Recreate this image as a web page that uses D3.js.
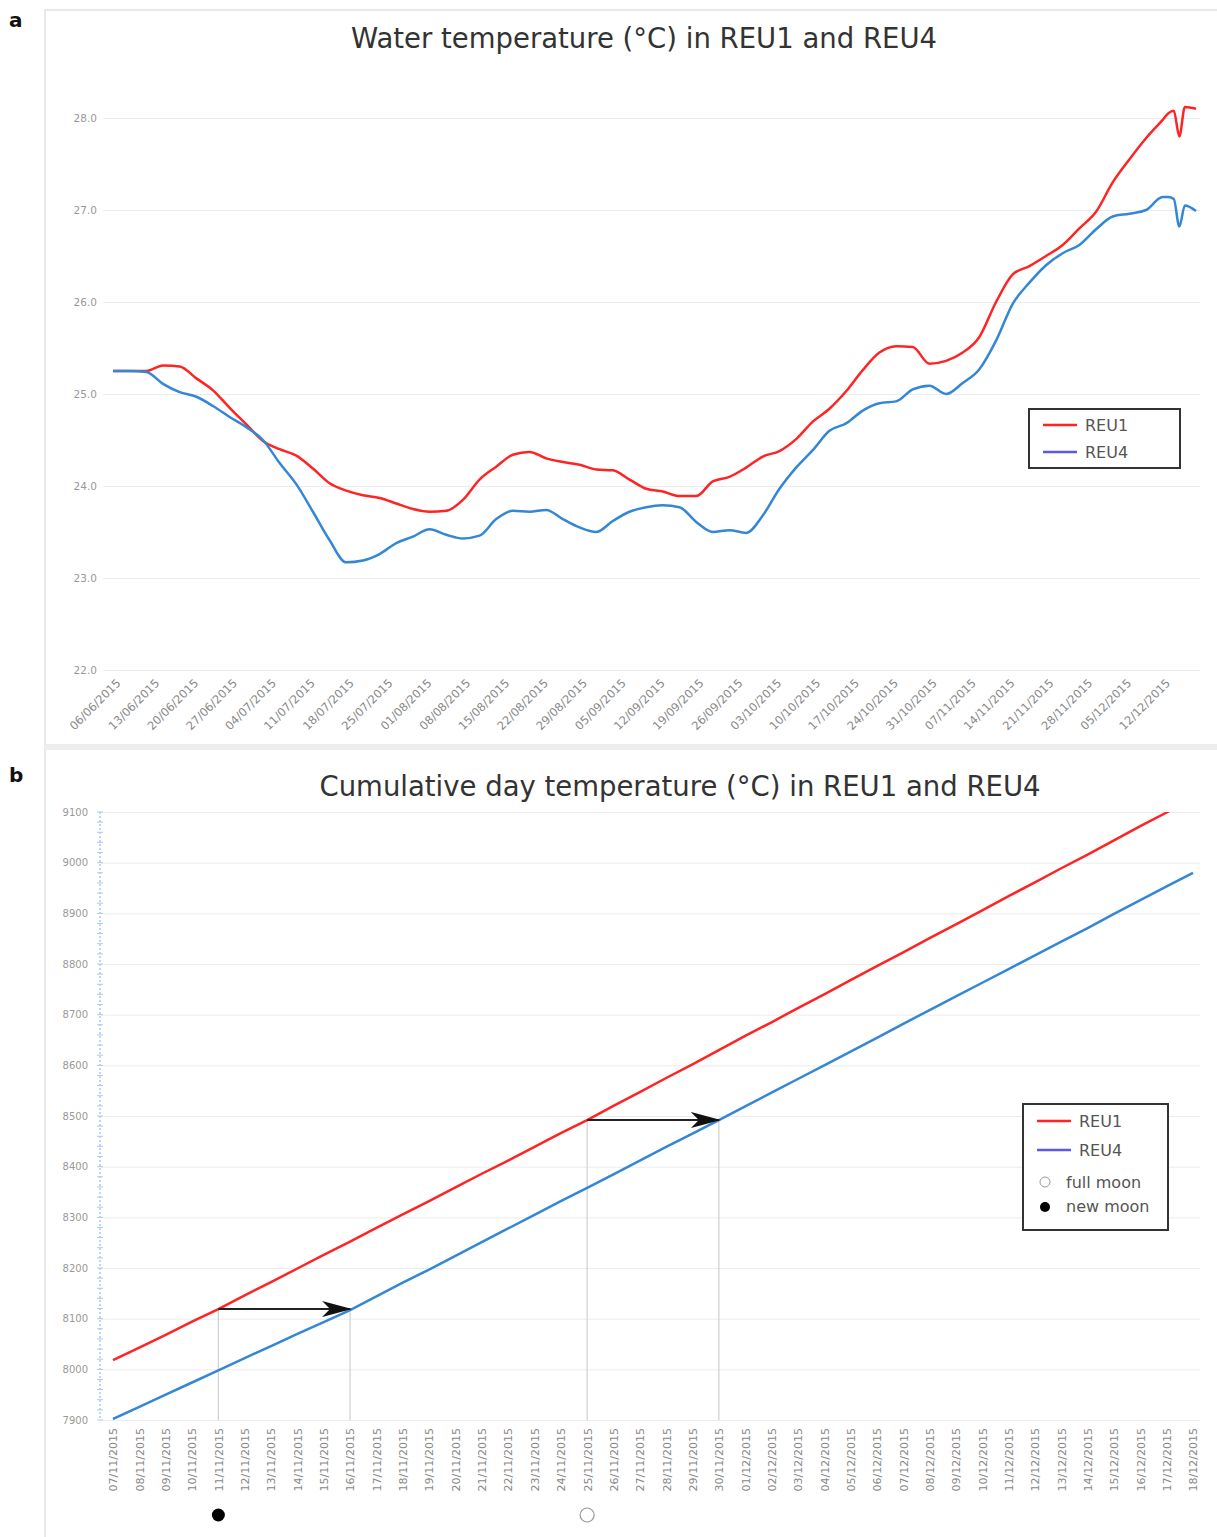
<!DOCTYPE html>
<html>
<head>
<meta charset="utf-8">
<script src="https://cdn.jsdelivr.net/npm/d3@7"></script>
<style>
  body { margin: 0; background: white; }
  text { font-family: "DejaVu Sans", sans-serif; }
</style>
</head>
<body>
<div id="container"></div>
<script>
// ---- data ----

// panel a: water temperature, sampled every ~3 days
const waterDates = [
  "06/06/2015","09/06/2015","12/06/2015","15/06/2015","18/06/2015","21/06/2015","24/06/2015","27/06/2015",
  "30/06/2015","03/07/2015","06/07/2015","09/07/2015","12/07/2015","15/07/2015","18/07/2015","21/07/2015",
  "24/07/2015","27/07/2015","30/07/2015","02/08/2015","05/08/2015","08/08/2015","11/08/2015","14/08/2015",
  "17/08/2015","20/08/2015","23/08/2015","26/08/2015","29/08/2015","01/09/2015","04/09/2015","07/09/2015",
  "10/09/2015","13/09/2015","16/09/2015","19/09/2015","22/09/2015","25/09/2015","28/09/2015","01/10/2015",
  "04/10/2015","07/10/2015","10/10/2015","13/10/2015","16/10/2015","19/10/2015","22/10/2015","25/10/2015",
  "28/10/2015","31/10/2015","03/11/2015","06/11/2015","09/11/2015","12/11/2015","15/11/2015","18/11/2015",
  "21/11/2015","24/11/2015","27/11/2015","30/11/2015","03/12/2015","06/12/2015","09/12/2015","12/12/2015",
  "13/12/2015","14/12/2015","15/12/2015","16/12/2015","18/12/2015"
];
const reu1Water = [
  25.25,25.25,25.25,25.31,25.30,25.17,25.04,24.85,
  24.67,24.49,24.40,24.33,24.19,24.03,23.95,23.90,
  23.87,23.81,23.75,23.72,23.73,23.85,24.07,24.21,
  24.34,24.37,24.30,24.26,24.23,24.18,24.17,24.07,
  23.97,23.94,23.89,23.89,24.05,24.10,24.20,24.32,
  24.38,24.51,24.70,24.84,25.03,25.26,25.45,25.52,
  25.51,25.33,25.36,25.45,25.62,26.00,26.30,26.39,
  26.50,26.62,26.80,26.98,27.30,27.55,27.78,27.98,
  28.05,28.08,27.80,28.12,28.10
];
const reu4Water = [
  25.25,25.25,25.24,25.11,25.02,24.97,24.87,24.75,
  24.64,24.50,24.25,24.02,23.72,23.41,23.17,23.19,
  23.26,23.38,23.45,23.53,23.47,23.43,23.46,23.64,
  23.73,23.72,23.74,23.64,23.55,23.50,23.62,23.72,
  23.77,23.79,23.77,23.61,23.50,23.52,23.49,23.68,
  23.97,24.20,24.39,24.60,24.68,24.82,24.90,24.92,
  25.05,25.09,25.00,25.12,25.27,25.58,25.98,26.21,
  26.40,26.53,26.62,26.79,26.93,26.96,27.00,27.14,
  27.14,27.12,26.82,27.05,26.99
];
const waterTicks = [22, 23, 24, 25, 26, 27, 28];

// panel b: cumulative day temperature, one value per day from 07/11/2015
const cumStart = "07/11/2015";
const reu1Cum = [
  8018,8043,8068,8094,8119,8146,8172,8199,8226,8252,8279,8306,8332,8359,
  8386,8412,8439,8466,8492,8520,8547,8575,8602,8630,8658,8685,8713,8740,
  8768,8796,8823,8851,8878,8906,8934,8961,8989,9016,9044,9072,9099,9127
];
const reu4Cum = [
  7902,7926,7950,7974,7998,8022,8046,8070,8093,8117,8144,8171,8197,8224,
  8251,8278,8305,8332,8358,8385,8412,8439,8465,8492,8519,8546,8573,8600,
  8627,8654,8682,8709,8736,8763,8790,8817,8844,8871,8899,8926,8953,8980
];
const cumTicks = [7900,8000,8100,8200,8300,8400,8500,8600,8700,8800,8900,9000,9100];

// time shift arrows: from REU1 date to REU4 date reaching the same value
const shiftFrom = ["11/11/2015", "25/11/2015"];
const shiftTo = ["16/11/2015", "30/11/2015"];
const newMoon = ["11/11/2015"];
const fullMoon = ["25/11/2015"];

// ---- drawing ----
const parseDate = d3.timeParse("%d/%m/%Y");
const fmtDate = d3.timeFormat("%d/%m/%Y");
const red = "#ff2424";
const blue = "#3487d4";
const legendBlue = "#5a5ae6";

const svg = d3.select("#container").append("svg")
  .attr("width", 1217).attr("height", 1537)
  .style("background-color", "white");

const defs = svg.append("defs");
defs.append("marker")
  .attr("id", "arrow")
  .attr("viewBox", "0 0 30 16")
  .attr("refX", 28).attr("refY", 8)
  .attr("markerWidth", 30).attr("markerHeight", 16)
  .attr("markerUnits", "userSpaceOnUse")
  .attr("orient", "auto")
  .append("path")
  .attr("d", "M0,0 L30,8 L0,16 L8,8 Z")
  .attr("fill", "#111");

// panel frames
svg.append("rect").attr("x", 45).attr("y", 10).attr("width", 1180).attr("height", 1540)
  .attr("fill", "none").attr("stroke", "#e2e2e2").attr("stroke-width", 1.5);
svg.append("rect").attr("x", 45).attr("y", 744).attr("width", 1172).attr("height", 6)
  .attr("fill", "#eeeeee");

svg.append("text").attr("x", 9).attr("y", 27).text("a")
  .attr("font-size", 20).attr("font-weight", "bold").attr("fill", "#111");
svg.append("text").attr("x", 9).attr("y", 782).text("b")
  .attr("font-size", 20).attr("font-weight", "bold").attr("fill", "#111");

drawWater();
drawCumulative();

function drawWater() {
  const x = d3.scaleTime()
    .domain([parseDate("06/06/2015"), parseDate("18/12/2015")])
    .range([113, 1196]);
  const y = d3.scaleLinear().domain([22, 28]).range([670, 118]);

  svg.append("text").attr("x", 644).attr("y", 48)
    .attr("text-anchor", "middle").attr("font-size", 27.5).attr("fill", "#333")
    .text("Water temperature (°C) in REU1 and REU4");

  // grid + y labels
  const yAxis = svg.append("g").attr("transform", "translate(103,0)")
    .call(d3.axisLeft(y).tickValues(waterTicks).tickFormat(d3.format(".1f"))
      .tickSize(-1097).tickPadding(6));
  yAxis.select(".domain").remove();
  yAxis.selectAll("line").attr("stroke", "#ececec");
  yAxis.selectAll("text").attr("font-size", 10.5).attr("fill", "#999")
    .attr("font-family", "DejaVu Sans");

  // weekly x labels, rotated
  const weeks = d3.timeDay.range(parseDate("06/06/2015"), parseDate("13/12/2015"), 7);
  const xAxis = svg.append("g").attr("transform", "translate(0,676)")
    .call(d3.axisBottom(x).tickValues(weeks).tickFormat(fmtDate).tickSize(0));
  xAxis.select(".domain").remove();
  xAxis.selectAll("text")
    .attr("font-size", 11.5).attr("fill", "#888").attr("font-family", "DejaVu Sans")
    .attr("text-anchor", "end").attr("dy", "0.7em").attr("dx", "0")
    .attr("transform", "rotate(-45)")
    .attr("y", 3).attr("x", 0);

  const rows = waterDates.map((d, i) => ({ date: parseDate(d), a: reu1Water[i], b: reu4Water[i] }));
  const lineA = d3.line().x(d => x(d.date)).y(d => y(d.a)).curve(d3.curveMonotoneX);
  const lineB = d3.line().x(d => x(d.date)).y(d => y(d.b)).curve(d3.curveMonotoneX);

  svg.append("path").datum(rows).attr("d", lineA)
    .attr("fill", "none").attr("stroke", red).attr("stroke-width", 2.5);
  svg.append("path").datum(rows).attr("d", lineB)
    .attr("fill", "none").attr("stroke", blue).attr("stroke-width", 2.5);

  // legend
  const lg = svg.append("g").attr("transform", "translate(1029,409)");
  lg.append("rect").attr("width", 151).attr("height", 59)
    .attr("fill", "white").attr("stroke", "#333").attr("stroke-width", 2);
  legendLine(lg, 16, red, "REU1");
  legendLine(lg, 43, legendBlue, "REU4");
}

function drawCumulative() {
  const start = parseDate(cumStart);
  const days = reu1Cum.map((d, i) => d3.timeDay.offset(start, i));
  const x = d3.scaleTime().domain([days[0], days[days.length - 1]]).range([113, 1193]);
  const y = d3.scaleLinear().domain([7900, 9100]).range([1420, 812]);

  svg.append("text").attr("x", 680).attr("y", 796)
    .attr("text-anchor", "middle").attr("font-size", 27.5).attr("fill", "#333")
    .text("Cumulative day temperature (°C) in REU1 and REU4");

  const yAxis = svg.append("g").attr("transform", "translate(100,0)")
    .call(d3.axisLeft(y).tickValues(cumTicks).tickFormat(d3.format("d"))
      .tickSize(-1100).tickPadding(12));
  yAxis.select(".domain").remove();
  yAxis.selectAll("line").attr("stroke", "#ececec");
  yAxis.selectAll("text").attr("font-size", 10).attr("fill", "#999")
    .attr("font-family", "DejaVu Sans");

  // dashed light blue axis with minor ticks
  svg.append("line").attr("x1", 100).attr("x2", 100).attr("y1", 812).attr("y2", 1420)
    .attr("stroke", "#a9cbef").attr("stroke-width", 1.5).attr("stroke-dasharray", "2,2");
  svg.append("g").selectAll("line").data(d3.range(7900, 9101, 20)).join("line")
    .attr("x1", 97).attr("x2", 103).attr("y1", d => y(d)).attr("y2", d => y(d))
    .attr("stroke", "#a9cbef").attr("stroke-width", 1);

  const xAxis = svg.append("g").attr("transform", "translate(0,1426)")
    .call(d3.axisBottom(x).tickValues(days).tickFormat(fmtDate).tickSize(0));
  xAxis.select(".domain").remove();
  xAxis.selectAll("text")
    .attr("font-size", 11).attr("fill", "#888").attr("font-family", "DejaVu Sans")
    .attr("text-anchor", "end").attr("transform", "rotate(-90)")
    .attr("x", -2).attr("y", 0).attr("dy", "0.35em");

  // vertical guides and shift arrows
  shiftFrom.forEach((f, i) => {
    const d0 = parseDate(f), d1 = parseDate(shiftTo[i]);
    const v = reu1Cum[d3.timeDay.count(start, d0)];
    [d0, d1].forEach(d => {
      svg.append("line").attr("x1", x(d)).attr("x2", x(d)).attr("y1", y(v)).attr("y2", 1420)
        .attr("stroke", "#cfcfcf").attr("stroke-width", 1.2);
    });
  });

  const clip = defs.append("clipPath").attr("id", "plotClip");
  clip.append("rect").attr("x", 100).attr("y", 812).attr("width", 1110).attr("height", 608);

  const lineA = d3.line().x((d, i) => x(days[i])).y(d => y(d));
  svg.append("path").datum(reu1Cum).attr("d", lineA).attr("clip-path", "url(#plotClip)")
    .attr("fill", "none").attr("stroke", red).attr("stroke-width", 2.5);
  svg.append("path").datum(reu4Cum).attr("d", lineA).attr("clip-path", "url(#plotClip)")
    .attr("fill", "none").attr("stroke", blue).attr("stroke-width", 2.5);

  shiftFrom.forEach((f, i) => {
    const d0 = parseDate(f), d1 = parseDate(shiftTo[i]);
    const v = reu1Cum[d3.timeDay.count(start, d0)];
    svg.append("line").attr("x1", x(d0)).attr("x2", x(d1)).attr("y1", y(v)).attr("y2", y(v))
      .attr("stroke", "#222").attr("stroke-width", 2).attr("marker-end", "url(#arrow)");
  });

  // moon phases under the date labels
  svg.selectAll(".newmoon").data(newMoon).join("circle").attr("class", "newmoon")
    .attr("cx", d => x(parseDate(d))).attr("cy", 1515).attr("r", 6.5).attr("fill", "#000");
  svg.selectAll(".fullmoon").data(fullMoon).join("circle").attr("class", "fullmoon")
    .attr("cx", d => x(parseDate(d))).attr("cy", 1515).attr("r", 7)
    .attr("fill", "white").attr("stroke", "#999").attr("stroke-width", 1.2);

  // legend
  const lg = svg.append("g").attr("transform", "translate(1023,1104)");
  lg.append("rect").attr("width", 145).attr("height", 126)
    .attr("fill", "white").attr("stroke", "#333").attr("stroke-width", 2);
  legendLine(lg, 17, red, "REU1");
  legendLine(lg, 46, legendBlue, "REU4");
  lg.append("circle").attr("cx", 22).attr("cy", 78).attr("r", 5)
    .attr("fill", "white").attr("stroke", "#999");
  lg.append("text").attr("x", 43).attr("y", 84).text("full moon")
    .attr("font-size", 16).attr("fill", "#555");
  lg.append("circle").attr("cx", 22).attr("cy", 103).attr("r", 5).attr("fill", "#000");
  lg.append("text").attr("x", 43).attr("y", 108).text("new moon")
    .attr("font-size", 16).attr("fill", "#555");
}

function legendLine(g, yy, color, label) {
  g.append("line").attr("x1", 14).attr("x2", 48).attr("y1", yy).attr("y2", yy)
    .attr("stroke", color).attr("stroke-width", 2.5);
  g.append("text").attr("x", 56).attr("y", yy + 6).text(label)
    .attr("font-size", 16).attr("fill", "#555");
}
</script>
</body>
</html>
